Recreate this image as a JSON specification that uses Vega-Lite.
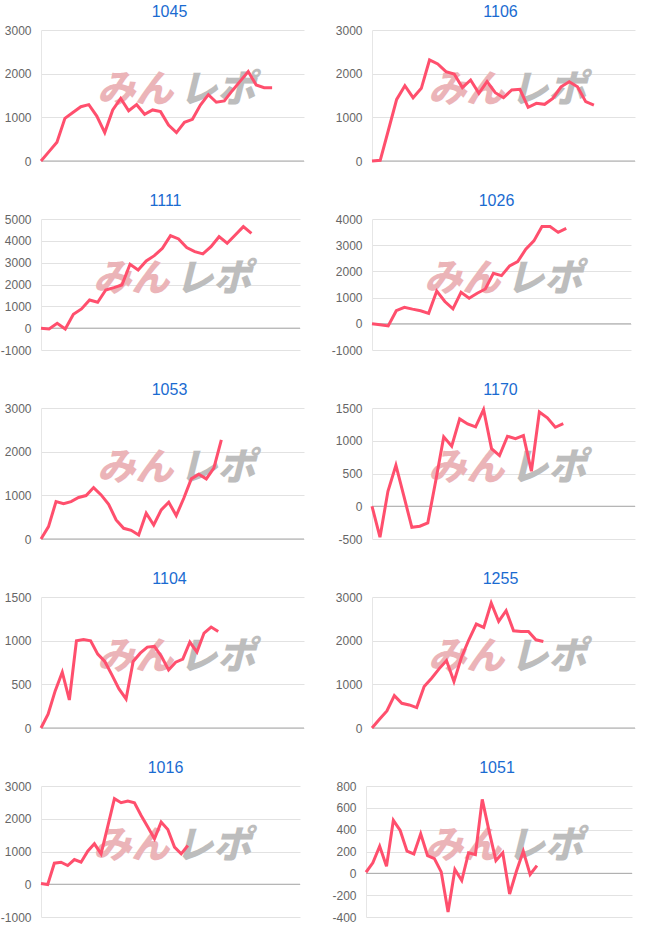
{
  "$schema": "https://vega.github.io/schema/vega-lite/v6.json",
  "padding": {"left": 0, "top": 4, "right": 0, "bottom": 0},
  "background": "white",
  "spacing": 26,
  "align": "none",
  "datasets": {
    "p1045": [{"i":0,"v":0},{"i":1,"v":215},{"i":2,"v":430},{"i":3,"v":977},{"i":4,"v":1110},{"i":5,"v":1244},{"i":6,"v":1290},{"i":7,"v":1030},{"i":8,"v":650},{"i":9,"v":1170},{"i":10,"v":1435},{"i":11,"v":1150},{"i":12,"v":1290},{"i":13,"v":1070},{"i":14,"v":1170},{"i":15,"v":1130},{"i":16,"v":825},{"i":17,"v":650},{"i":18,"v":885},{"i":19,"v":955},{"i":20,"v":1280},{"i":21,"v":1520},{"i":22,"v":1345},{"i":23,"v":1375},{"i":24,"v":1610},{"i":25,"v":1830},{"i":26,"v":2050},{"i":27,"v":1740},{"i":28,"v":1680},{"i":29,"v":1680}],
    "p1106": [{"i":0,"v":0},{"i":1,"v":15},{"i":2,"v":710},{"i":3,"v":1410},{"i":4,"v":1725},{"i":5,"v":1450},{"i":6,"v":1665},{"i":7,"v":2313},{"i":8,"v":2221},{"i":9,"v":2045},{"i":10,"v":1992},{"i":11,"v":1680},{"i":12,"v":1855},{"i":13,"v":1550},{"i":14,"v":1817},{"i":15,"v":1565},{"i":16,"v":1450},{"i":17,"v":1626},{"i":18,"v":1641},{"i":19,"v":1230},{"i":20,"v":1320},{"i":21,"v":1298},{"i":22,"v":1435},{"i":23,"v":1700},{"i":24,"v":1817},{"i":25,"v":1700},{"i":26,"v":1360},{"i":27,"v":1282}],
    "p1111": [{"i":0,"v":0},{"i":1,"v":-40},{"i":2,"v":220},{"i":3,"v":-40},{"i":4,"v":635},{"i":5,"v":880},{"i":6,"v":1290},{"i":7,"v":1185},{"i":8,"v":1750},{"i":9,"v":1855},{"i":10,"v":1980},{"i":11,"v":2925},{"i":12,"v":2665},{"i":13,"v":3080},{"i":14,"v":3320},{"i":15,"v":3660},{"i":16,"v":4240},{"i":17,"v":4085},{"i":18,"v":3690},{"i":19,"v":3505},{"i":20,"v":3400},{"i":21,"v":3735},{"i":22,"v":4190},{"i":23,"v":3890},{"i":24,"v":4270},{"i":25,"v":4650},{"i":26,"v":4345}],
    "p1026": [{"i":0,"v":0},{"i":1,"v":-40},{"i":2,"v":-80},{"i":3,"v":500},{"i":4,"v":630},{"i":5,"v":560},{"i":6,"v":500},{"i":7,"v":400},{"i":8,"v":1250},{"i":9,"v":850},{"i":10,"v":570},{"i":11,"v":1200},{"i":12,"v":975},{"i":13,"v":1165},{"i":14,"v":1330},{"i":15,"v":1930},{"i":16,"v":1840},{"i":17,"v":2210},{"i":18,"v":2375},{"i":19,"v":2845},{"i":20,"v":3165},{"i":21,"v":3710},{"i":22,"v":3710},{"i":23,"v":3490},{"i":24,"v":3645}],
    "p1053": [{"i":0,"v":0},{"i":1,"v":283},{"i":2,"v":857},{"i":3,"v":811},{"i":4,"v":857},{"i":5,"v":950},{"i":6,"v":995},{"i":7,"v":1178},{"i":8,"v":1010},{"i":9,"v":796},{"i":10,"v":436},{"i":11,"v":245},{"i":12,"v":199},{"i":13,"v":92},{"i":14,"v":590},{"i":15,"v":321},{"i":16,"v":666},{"i":17,"v":842},{"i":18,"v":536},{"i":19,"v":933},{"i":20,"v":1377},{"i":21,"v":1484},{"i":22,"v":1377},{"i":23,"v":1622},{"i":24,"v":2272}],
    "p1170": [{"i":0,"v":0},{"i":1,"v":-473},{"i":2,"v":229},{"i":3,"v":626},{"i":4,"v":153},{"i":5,"v":-321},{"i":6,"v":-305},{"i":7,"v":-254},{"i":8,"v":390},{"i":9,"v":1059},{"i":10,"v":916},{"i":11,"v":1333},{"i":12,"v":1257},{"i":13,"v":1211},{"i":14,"v":1476},{"i":15,"v":880},{"i":16,"v":774},{"i":17,"v":1069},{"i":18,"v":1033},{"i":19,"v":1079},{"i":20,"v":534},{"i":21,"v":1440},{"i":22,"v":1349},{"i":23,"v":1206},{"i":24,"v":1262}],
    "p1104": [{"i":0,"v":0},{"i":1,"v":157},{"i":2,"v":425},{"i":3,"v":639},{"i":4,"v":321},{"i":5,"v":999},{"i":6,"v":1014},{"i":7,"v":999},{"i":8,"v":846},{"i":9,"v":762},{"i":10,"v":608},{"i":11,"v":448},{"i":12,"v":333},{"i":13,"v":762},{"i":14,"v":857},{"i":15,"v":926},{"i":16,"v":934},{"i":17,"v":819},{"i":18,"v":666},{"i":19,"v":754},{"i":20,"v":788},{"i":21,"v":984},{"i":22,"v":869},{"i":23,"v":1087},{"i":24,"v":1156},{"i":25,"v":1106}],
    "p1255": [{"i":0,"v":0},{"i":1,"v":200},{"i":2,"v":390},{"i":3,"v":742},{"i":4,"v":566},{"i":5,"v":528},{"i":6,"v":467},{"i":7,"v":949},{"i":8,"v":1140},{"i":9,"v":1354},{"i":10,"v":1545},{"i":11,"v":1063},{"i":12,"v":1614},{"i":13,"v":2020},{"i":14,"v":2380},{"i":15,"v":2303},{"i":16,"v":2862},{"i":17,"v":2441},{"i":18,"v":2686},{"i":19,"v":2226},{"i":20,"v":2211},{"i":21,"v":2211},{"i":22,"v":2020},{"i":23,"v":1982}],
    "p1016": [{"i":0,"v":20},{"i":1,"v":-10},{"i":2,"v":643},{"i":3,"v":673},{"i":4,"v":571},{"i":5,"v":755},{"i":6,"v":673},{"i":7,"v":1010},{"i":8,"v":1235},{"i":9,"v":929},{"i":10,"v":1770},{"i":11,"v":2612},{"i":12,"v":2490},{"i":13,"v":2541},{"i":14,"v":2490},{"i":15,"v":2102},{"i":16,"v":1745},{"i":17,"v":1388},{"i":18,"v":1898},{"i":19,"v":1673},{"i":20,"v":1133},{"i":21,"v":929},{"i":22,"v":1184}],
    "p1051": [{"i":0,"v":10},{"i":1,"v":96},{"i":2,"v":249},{"i":3,"v":65},{"i":4,"v":485},{"i":5,"v":393},{"i":6,"v":203},{"i":7,"v":178},{"i":8,"v":362},{"i":9,"v":163},{"i":10,"v":135},{"i":11,"v":13},{"i":12,"v":-354},{"i":13,"v":35},{"i":14,"v":-66},{"i":15,"v":188},{"i":16,"v":172},{"i":17,"v":678},{"i":18,"v":387},{"i":19,"v":117},{"i":20,"v":188},{"i":21,"v":-189},{"i":22,"v":19},{"i":23,"v":203},{"i":24,"v":-11},{"i":25,"v":71}],
    "mark1": [{"w": "みん"}],
    "mark2": [{"w": "レポ"}]
  },
  "config": {
    "view": {"stroke": null},
    "font": "Liberation Sans",
    "axis": {"labelFont": "Liberation Sans", "labelFontSize": 12, "labelColor": "#666666", "ticks": false, "labelPadding": 10, "grid": true, "gridColor": "#e2e2e2", "domain": true, "domainColor": "#e6e6e6", "labelExpr": "'' + datum.value"},
    "title": {"font": "Liberation Sans", "fontSize": 16, "fontWeight": 400, "color": "#1a6bd1", "frame": "group", "anchor": "middle", "offset": 4},
    "line": {"color": "#ff4f6d", "strokeWidth": 3},
    "rule": {"color": "#a8a8a8", "strokeWidth": 1},
    "text": {"font": "Noto Sans CJK JP", "fontSize": 38, "fontWeight": 900, "fontStyle": "italic", "baseline": "middle"}
  },
  "vconcat": [
    {"spacing": 30, "align": "none", "hconcat": [
      {"title": {"text": "1045", "dx": -3, "fontWeight": 400}, "width": 263, "height": 131, "layer": [
        {"data": {"name": "mark1"}, "mark": {"type": "text", "align": "right", "dx": -3, "color": "#ebb4b8"}, "encoding": {"text": {"field": "w"}, "x": {"datum": 16.98, "type": "quantitative", "scale": {"domain": [0, 33]}, "axis": null}, "y": {"datum": 1605, "type": "quantitative", "scale": {"domain": [0, 3000], "nice": false}, "axis": {"values": [0, 1000, 2000, 3000], "title": null, "grid": true}}}},
        {"data": {"name": "mark2"}, "mark": {"type": "text", "align": "left", "dx": 3, "color": "#bdbdbd"}, "encoding": {"text": {"field": "w"}, "x": {"datum": 16.98, "type": "quantitative", "scale": {"domain": [0, 33]}, "axis": null}, "y": {"datum": 1605, "type": "quantitative", "scale": {"domain": [0, 3000], "nice": false}, "axis": {"values": [0, 1000, 2000, 3000], "title": null, "grid": true}}}},
        {"data": {"name": "mark1"}, "mark": "rule", "encoding": {"y": {"datum": 0, "type": "quantitative", "scale": {"domain": [0, 3000], "nice": false}, "axis": {"values": [0, 1000, 2000, 3000], "title": null, "grid": true}}}},
        {"data": {"name": "p1045"}, "mark": "line", "encoding": {"x": {"field": "i", "type": "quantitative", "scale": {"domain": [0, 33]}, "axis": null}, "y": {"field": "v", "type": "quantitative", "scale": {"domain": [0, 3000], "nice": false}, "axis": {"values": [0, 1000, 2000, 3000], "title": null, "grid": true}}}}
      ]},
      {"title": {"text": "1106", "dx": -3, "fontWeight": 400}, "width": 263, "height": 131, "layer": [
        {"data": {"name": "mark1"}, "mark": {"type": "text", "align": "right", "dx": -3, "color": "#ebb4b8"}, "encoding": {"text": {"field": "w"}, "x": {"datum": 16.46, "type": "quantitative", "scale": {"domain": [0, 32]}, "axis": null}, "y": {"datum": 1605, "type": "quantitative", "scale": {"domain": [0, 3000], "nice": false}, "axis": {"values": [0, 1000, 2000, 3000], "title": null, "grid": true}}}},
        {"data": {"name": "mark2"}, "mark": {"type": "text", "align": "left", "dx": 3, "color": "#bdbdbd"}, "encoding": {"text": {"field": "w"}, "x": {"datum": 16.46, "type": "quantitative", "scale": {"domain": [0, 32]}, "axis": null}, "y": {"datum": 1605, "type": "quantitative", "scale": {"domain": [0, 3000], "nice": false}, "axis": {"values": [0, 1000, 2000, 3000], "title": null, "grid": true}}}},
        {"data": {"name": "mark1"}, "mark": "rule", "encoding": {"y": {"datum": 0, "type": "quantitative", "scale": {"domain": [0, 3000], "nice": false}, "axis": {"values": [0, 1000, 2000, 3000], "title": null, "grid": true}}}},
        {"data": {"name": "p1106"}, "mark": "line", "encoding": {"x": {"field": "i", "type": "quantitative", "scale": {"domain": [0, 32]}, "axis": null}, "y": {"field": "v", "type": "quantitative", "scale": {"domain": [0, 3000], "nice": false}, "axis": {"values": [0, 1000, 2000, 3000], "title": null, "grid": true}}}}
      ]}
    ]},
    {"spacing": 30, "align": "none", "hconcat": [
      {"title": {"text": "1111", "dx": -5, "fontWeight": 400}, "width": 259, "height": 131, "layer": [
        {"data": {"name": "mark1"}, "mark": {"type": "text", "align": "right", "dx": -3, "color": "#ebb4b8"}, "encoding": {"text": {"field": "w"}, "x": {"datum": 16.22, "type": "quantitative", "scale": {"domain": [0, 32]}, "axis": null}, "y": {"datum": 2210, "type": "quantitative", "scale": {"domain": [-1000, 5000], "nice": false}, "axis": {"values": [-1000, 0, 1000, 2000, 3000, 4000, 5000], "title": null, "grid": true}}}},
        {"data": {"name": "mark2"}, "mark": {"type": "text", "align": "left", "dx": 3, "color": "#bdbdbd"}, "encoding": {"text": {"field": "w"}, "x": {"datum": 16.22, "type": "quantitative", "scale": {"domain": [0, 32]}, "axis": null}, "y": {"datum": 2210, "type": "quantitative", "scale": {"domain": [-1000, 5000], "nice": false}, "axis": {"values": [-1000, 0, 1000, 2000, 3000, 4000, 5000], "title": null, "grid": true}}}},
        {"data": {"name": "mark1"}, "mark": "rule", "encoding": {"y": {"datum": 0, "type": "quantitative", "scale": {"domain": [-1000, 5000], "nice": false}, "axis": {"values": [-1000, 0, 1000, 2000, 3000, 4000, 5000], "title": null, "grid": true}}}},
        {"data": {"name": "p1111"}, "mark": "line", "encoding": {"x": {"field": "i", "type": "quantitative", "scale": {"domain": [0, 32]}, "axis": null}, "y": {"field": "v", "type": "quantitative", "scale": {"domain": [-1000, 5000], "nice": false}, "axis": {"values": [-1000, 0, 1000, 2000, 3000, 4000, 5000], "title": null, "grid": true}}}}
      ]},
      {"title": {"text": "1026", "dx": -5, "fontWeight": 400}, "width": 259, "height": 131, "layer": [
        {"data": {"name": "mark1"}, "mark": {"type": "text", "align": "right", "dx": -3, "color": "#ebb4b8"}, "encoding": {"text": {"field": "w"}, "x": {"datum": 16.22, "type": "quantitative", "scale": {"domain": [0, 32]}, "axis": null}, "y": {"datum": 1675, "type": "quantitative", "scale": {"domain": [-1000, 4000], "nice": false}, "axis": {"values": [-1000, 0, 1000, 2000, 3000, 4000], "title": null, "grid": true}}}},
        {"data": {"name": "mark2"}, "mark": {"type": "text", "align": "left", "dx": 3, "color": "#bdbdbd"}, "encoding": {"text": {"field": "w"}, "x": {"datum": 16.22, "type": "quantitative", "scale": {"domain": [0, 32]}, "axis": null}, "y": {"datum": 1675, "type": "quantitative", "scale": {"domain": [-1000, 4000], "nice": false}, "axis": {"values": [-1000, 0, 1000, 2000, 3000, 4000], "title": null, "grid": true}}}},
        {"data": {"name": "mark1"}, "mark": "rule", "encoding": {"y": {"datum": 0, "type": "quantitative", "scale": {"domain": [-1000, 4000], "nice": false}, "axis": {"values": [-1000, 0, 1000, 2000, 3000, 4000], "title": null, "grid": true}}}},
        {"data": {"name": "p1026"}, "mark": "line", "encoding": {"x": {"field": "i", "type": "quantitative", "scale": {"domain": [0, 32]}, "axis": null}, "y": {"field": "v", "type": "quantitative", "scale": {"domain": [-1000, 4000], "nice": false}, "axis": {"values": [-1000, 0, 1000, 2000, 3000, 4000], "title": null, "grid": true}}}}
      ]}
    ]},
    {"spacing": 30, "align": "none", "hconcat": [
      {"title": {"text": "1053", "dx": -3, "fontWeight": 400}, "width": 263, "height": 131, "layer": [
        {"data": {"name": "mark1"}, "mark": {"type": "text", "align": "right", "dx": -3, "color": "#ebb4b8"}, "encoding": {"text": {"field": "w"}, "x": {"datum": 18.0, "type": "quantitative", "scale": {"domain": [0, 35]}, "axis": null}, "y": {"datum": 1605, "type": "quantitative", "scale": {"domain": [0, 3000], "nice": false}, "axis": {"values": [0, 1000, 2000, 3000], "title": null, "grid": true}}}},
        {"data": {"name": "mark2"}, "mark": {"type": "text", "align": "left", "dx": 3, "color": "#bdbdbd"}, "encoding": {"text": {"field": "w"}, "x": {"datum": 18.0, "type": "quantitative", "scale": {"domain": [0, 35]}, "axis": null}, "y": {"datum": 1605, "type": "quantitative", "scale": {"domain": [0, 3000], "nice": false}, "axis": {"values": [0, 1000, 2000, 3000], "title": null, "grid": true}}}},
        {"data": {"name": "mark1"}, "mark": "rule", "encoding": {"y": {"datum": 0, "type": "quantitative", "scale": {"domain": [0, 3000], "nice": false}, "axis": {"values": [0, 1000, 2000, 3000], "title": null, "grid": true}}}},
        {"data": {"name": "p1053"}, "mark": "line", "encoding": {"x": {"field": "i", "type": "quantitative", "scale": {"domain": [0, 35]}, "axis": null}, "y": {"field": "v", "type": "quantitative", "scale": {"domain": [0, 3000], "nice": false}, "axis": {"values": [0, 1000, 2000, 3000], "title": null, "grid": true}}}}
      ]},
      {"title": {"text": "1170", "dx": -3, "fontWeight": 400}, "width": 263, "height": 131, "layer": [
        {"data": {"name": "mark1"}, "mark": {"type": "text", "align": "right", "dx": -3, "color": "#ebb4b8"}, "encoding": {"text": {"field": "w"}, "x": {"datum": 16.98, "type": "quantitative", "scale": {"domain": [0, 33]}, "axis": null}, "y": {"datum": 570, "type": "quantitative", "scale": {"domain": [-500, 1500], "nice": false}, "axis": {"values": [-500, 0, 500, 1000, 1500], "title": null, "grid": true}}}},
        {"data": {"name": "mark2"}, "mark": {"type": "text", "align": "left", "dx": 3, "color": "#bdbdbd"}, "encoding": {"text": {"field": "w"}, "x": {"datum": 16.98, "type": "quantitative", "scale": {"domain": [0, 33]}, "axis": null}, "y": {"datum": 570, "type": "quantitative", "scale": {"domain": [-500, 1500], "nice": false}, "axis": {"values": [-500, 0, 500, 1000, 1500], "title": null, "grid": true}}}},
        {"data": {"name": "mark1"}, "mark": "rule", "encoding": {"y": {"datum": 0, "type": "quantitative", "scale": {"domain": [-500, 1500], "nice": false}, "axis": {"values": [-500, 0, 500, 1000, 1500], "title": null, "grid": true}}}},
        {"data": {"name": "p1170"}, "mark": "line", "encoding": {"x": {"field": "i", "type": "quantitative", "scale": {"domain": [0, 33]}, "axis": null}, "y": {"field": "v", "type": "quantitative", "scale": {"domain": [-500, 1500], "nice": false}, "axis": {"values": [-500, 0, 500, 1000, 1500], "title": null, "grid": true}}}}
      ]}
    ]},
    {"spacing": 30, "align": "none", "hconcat": [
      {"title": {"text": "1104", "dx": -3, "fontWeight": 400}, "width": 263, "height": 131, "layer": [
        {"data": {"name": "mark1"}, "mark": {"type": "text", "align": "right", "dx": -3, "color": "#ebb4b8"}, "encoding": {"text": {"field": "w"}, "x": {"datum": 19.09, "type": "quantitative", "scale": {"domain": [0, 37.1]}, "axis": null}, "y": {"datum": 803, "type": "quantitative", "scale": {"domain": [0, 1500], "nice": false}, "axis": {"values": [0, 500, 1000, 1500], "title": null, "grid": true}}}},
        {"data": {"name": "mark2"}, "mark": {"type": "text", "align": "left", "dx": 3, "color": "#bdbdbd"}, "encoding": {"text": {"field": "w"}, "x": {"datum": 19.09, "type": "quantitative", "scale": {"domain": [0, 37.1]}, "axis": null}, "y": {"datum": 803, "type": "quantitative", "scale": {"domain": [0, 1500], "nice": false}, "axis": {"values": [0, 500, 1000, 1500], "title": null, "grid": true}}}},
        {"data": {"name": "mark1"}, "mark": "rule", "encoding": {"y": {"datum": 0, "type": "quantitative", "scale": {"domain": [0, 1500], "nice": false}, "axis": {"values": [0, 500, 1000, 1500], "title": null, "grid": true}}}},
        {"data": {"name": "p1104"}, "mark": "line", "encoding": {"x": {"field": "i", "type": "quantitative", "scale": {"domain": [0, 37.1]}, "axis": null}, "y": {"field": "v", "type": "quantitative", "scale": {"domain": [0, 1500], "nice": false}, "axis": {"values": [0, 500, 1000, 1500], "title": null, "grid": true}}}}
      ]},
      {"title": {"text": "1255", "dx": -3, "fontWeight": 400}, "width": 263, "height": 131, "layer": [
        {"data": {"name": "mark1"}, "mark": {"type": "text", "align": "right", "dx": -3, "color": "#ebb4b8"}, "encoding": {"text": {"field": "w"}, "x": {"datum": 18.16, "type": "quantitative", "scale": {"domain": [0, 35.3]}, "axis": null}, "y": {"datum": 1605, "type": "quantitative", "scale": {"domain": [0, 3000], "nice": false}, "axis": {"values": [0, 1000, 2000, 3000], "title": null, "grid": true}}}},
        {"data": {"name": "mark2"}, "mark": {"type": "text", "align": "left", "dx": 3, "color": "#bdbdbd"}, "encoding": {"text": {"field": "w"}, "x": {"datum": 18.16, "type": "quantitative", "scale": {"domain": [0, 35.3]}, "axis": null}, "y": {"datum": 1605, "type": "quantitative", "scale": {"domain": [0, 3000], "nice": false}, "axis": {"values": [0, 1000, 2000, 3000], "title": null, "grid": true}}}},
        {"data": {"name": "mark1"}, "mark": "rule", "encoding": {"y": {"datum": 0, "type": "quantitative", "scale": {"domain": [0, 3000], "nice": false}, "axis": {"values": [0, 1000, 2000, 3000], "title": null, "grid": true}}}},
        {"data": {"name": "p1255"}, "mark": "line", "encoding": {"x": {"field": "i", "type": "quantitative", "scale": {"domain": [0, 35.3]}, "axis": null}, "y": {"field": "v", "type": "quantitative", "scale": {"domain": [0, 3000], "nice": false}, "axis": {"values": [0, 1000, 2000, 3000], "title": null, "grid": true}}}}
      ]}
    ]},
    {"spacing": 30, "align": "none", "hconcat": [
      {"title": {"text": "1016", "dx": -5, "fontWeight": 400}, "width": 259, "height": 131, "layer": [
        {"data": {"name": "mark1"}, "mark": {"type": "text", "align": "right", "dx": -3, "color": "#ebb4b8"}, "encoding": {"text": {"field": "w"}, "x": {"datum": 19.67, "type": "quantitative", "scale": {"domain": [0, 38.8]}, "axis": null}, "y": {"datum": 1140, "type": "quantitative", "scale": {"domain": [-1000, 3000], "nice": false}, "axis": {"values": [-1000, 0, 1000, 2000, 3000], "title": null, "grid": true}}}},
        {"data": {"name": "mark2"}, "mark": {"type": "text", "align": "left", "dx": 3, "color": "#bdbdbd"}, "encoding": {"text": {"field": "w"}, "x": {"datum": 19.67, "type": "quantitative", "scale": {"domain": [0, 38.8]}, "axis": null}, "y": {"datum": 1140, "type": "quantitative", "scale": {"domain": [-1000, 3000], "nice": false}, "axis": {"values": [-1000, 0, 1000, 2000, 3000], "title": null, "grid": true}}}},
        {"data": {"name": "mark1"}, "mark": "rule", "encoding": {"y": {"datum": 0, "type": "quantitative", "scale": {"domain": [-1000, 3000], "nice": false}, "axis": {"values": [-1000, 0, 1000, 2000, 3000], "title": null, "grid": true}}}},
        {"data": {"name": "p1016"}, "mark": "line", "encoding": {"x": {"field": "i", "type": "quantitative", "scale": {"domain": [0, 38.8]}, "axis": null}, "y": {"field": "v", "type": "quantitative", "scale": {"domain": [-1000, 3000], "nice": false}, "axis": {"values": [-1000, 0, 1000, 2000, 3000], "title": null, "grid": true}}}}
      ]},
      {"title": {"text": "1051", "dx": -2, "fontWeight": 400}, "width": 266, "height": 131, "layer": [
        {"data": {"name": "mark1"}, "mark": {"type": "text", "align": "right", "dx": -3, "color": "#ebb4b8"}, "encoding": {"text": {"field": "w"}, "x": {"datum": 20.18, "type": "quantitative", "scale": {"domain": [0, 38.9]}, "axis": null}, "y": {"datum": 242, "type": "quantitative", "scale": {"domain": [-400, 800], "nice": false}, "axis": {"values": [-400, -200, 0, 200, 400, 600, 800], "title": null, "grid": true}}}},
        {"data": {"name": "mark2"}, "mark": {"type": "text", "align": "left", "dx": 3, "color": "#bdbdbd"}, "encoding": {"text": {"field": "w"}, "x": {"datum": 20.18, "type": "quantitative", "scale": {"domain": [0, 38.9]}, "axis": null}, "y": {"datum": 242, "type": "quantitative", "scale": {"domain": [-400, 800], "nice": false}, "axis": {"values": [-400, -200, 0, 200, 400, 600, 800], "title": null, "grid": true}}}},
        {"data": {"name": "mark1"}, "mark": "rule", "encoding": {"y": {"datum": 0, "type": "quantitative", "scale": {"domain": [-400, 800], "nice": false}, "axis": {"values": [-400, -200, 0, 200, 400, 600, 800], "title": null, "grid": true}}}},
        {"data": {"name": "p1051"}, "mark": "line", "encoding": {"x": {"field": "i", "type": "quantitative", "scale": {"domain": [0, 38.9]}, "axis": null}, "y": {"field": "v", "type": "quantitative", "scale": {"domain": [-400, 800], "nice": false}, "axis": {"values": [-400, -200, 0, 200, 400, 600, 800], "title": null, "grid": true}}}}
      ]}
    ]}
  ]
}
